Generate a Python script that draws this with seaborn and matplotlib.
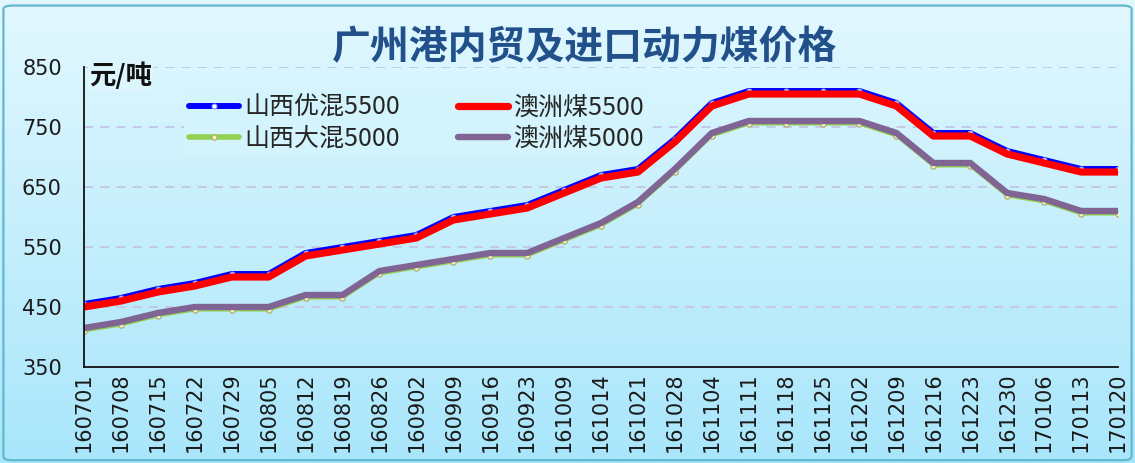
import numpy as np
import pandas as pd
import matplotlib
matplotlib.use("Agg")
import matplotlib.pyplot as plt
from matplotlib.colors import LinearSegmentedColormap
from matplotlib.patches import FancyBboxPatch
import seaborn as sns

# ---------------------------------------------------------------------------
# Data (元/吨)
# ---------------------------------------------------------------------------
dates = [
    "160701", "160708", "160715", "160722", "160729", "160805", "160812",
    "160819", "160826", "160902", "160909", "160916", "160923", "161009",
    "161014", "161021", "161028", "161104", "161111", "161118", "161125",
    "161202", "161209", "161216", "161223", "161230", "170106", "170113",
    "170120",
]
shanxi_you_5500 = [455, 465, 480, 490, 505, 505, 540, 550, 560, 570, 600, 610,
                   620, 645, 670, 680, 730, 790, 810, 810, 810, 810, 790, 740,
                   740, 710, 695, 680, 680]
aozhou_5500 = [450, 460, 475, 485, 500, 500, 535, 545, 555, 565, 595, 605,
               615, 640, 665, 675, 725, 785, 805, 805, 805, 805, 785, 735,
               735, 705, 690, 675, 675]
shanxi_da_5000 = [410, 420, 435, 445, 445, 445, 465, 465, 505, 515, 525, 535,
                  535, 560, 585, 620, 675, 735, 755, 755, 755, 755, 735, 685,
                  685, 635, 625, 605, 605]
aozhou_5000 = [415, 425, 440, 450, 450, 450, 470, 470, 510, 520, 530, 540,
               540, 565, 590, 625, 680, 740, 760, 760, 760, 760, 740, 690,
               690, 640, 630, 610, 610]
y_ticks = [350, 450, 550, 650, 750, 850]

df = pd.DataFrame({
    "date": dates,
    "pos": np.arange(len(dates)),
    "山西优混5500": shanxi_you_5500,
    "澳洲煤5500": aozhou_5500,
    "山西大混5000": shanxi_da_5000,
    "澳洲煤5000": aozhou_5000,
})

# drawing order matters: red over blue, purple over green
styles = [
    ("山西优混5500", dict(color="#0000FF", linewidth=4.3, marker="o", markersize=3.5,
                         markerfacecolor="#FFFFFF", markeredgecolor="#8FA8FF",
                         markeredgewidth=0.8)),
    ("山西大混5000", dict(color="#92D050", linewidth=2.2, marker="o", markersize=3.8,
                         markerfacecolor="#F4F4C0", markeredgecolor="#A8A860",
                         markeredgewidth=0.8)),
    ("澳洲煤5500", dict(color="#FF0000", linewidth=5.2)),
    ("澳洲煤5000", dict(color="#7F6494", linewidth=4.6)),
]

sns.set_theme(style="white")
plt.rcParams["font.family"] = ["Noto Sans CJK SC", "DejaVu Sans"]

fig = plt.figure(figsize=(11.35, 4.63), dpi=100)

# gradient background with a thin frame
bg = fig.add_axes([0, 0, 1, 1], zorder=-10)
cmap = LinearSegmentedColormap.from_list("bg", ["#A9E6FB", "#E2F8FE"])
bg.imshow(np.linspace(0, 1, 256).reshape(-1, 1), aspect="auto", cmap=cmap,
          extent=[0, 1, 0, 1], origin="lower")
bg.add_patch(FancyBboxPatch((0.003, 0.006), 0.994, 0.982,
                            boxstyle="round,pad=0,rounding_size=0.008",
                            transform=bg.transAxes, fill=False,
                            edgecolor="#62B8CF", linewidth=1.6))
bg.set_axis_off()

ax = fig.add_axes([84 / 1135, 96 / 463, 1034 / 1135, 300 / 463])
ax.patch.set_alpha(0)

handles = {}
for name, kw in styles:
    sns.lineplot(data=df, x="pos", y=name, ax=ax, label=name, **kw)
    handles[name] = ax.get_lines()[-1]

ax.set_xlim(0, len(dates) - 1)
ax.set_ylim(350, 850)
ax.set_xticks(df["pos"])
ax.set_xticklabels(dates, rotation=90, fontsize=15, family="DejaVu Sans",
                   color="#1A1A1A")
ax.set_yticks(y_ticks)
ax.set_yticklabels([str(v) for v in y_ticks], fontsize=15, family="DejaVu Sans",
                   color="#1A1A1A")
ax.tick_params(axis="x", direction="in", length=8, width=1.2, pad=4,
               color="#111111")
ax.tick_params(axis="y", direction="in", length=8, width=1.2, pad=16,
               color="#111111")
ax.set_xlabel("")
ax.set_ylabel("")

for side in ("top", "right"):
    ax.spines[side].set_visible(False)
for side in ("left", "bottom"):
    ax.spines[side].set_color("#111111")
    ax.spines[side].set_linewidth(1.3)

ax.yaxis.grid(True, linestyle=(0, (5, 4)), color="#C4C4E6", linewidth=1.3)
ax.set_axisbelow(True)

order = ["山西优混5500", "山西大混5000", "澳洲煤5500", "澳洲煤5000"]
legend_lines = []
for n in order:
    h = handles[n]
    proxy = plt.Line2D([], [], color=h.get_color(),
                       linewidth=max(h.get_linewidth(), 4.0),
                       marker=h.get_marker(), markersize=h.get_markersize(),
                       markerfacecolor=h.get_markerfacecolor(),
                       markeredgecolor=h.get_markeredgecolor(),
                       markeredgewidth=h.get_markeredgewidth())
    legend_lines.append(proxy)
leg = ax.legend(legend_lines, order, ncol=2, loc="upper left",
                bbox_to_anchor=(0.097, 0.925), fontsize=18, frameon=True,
                facecolor="#D3F3FD", edgecolor="none", framealpha=1,
                handlelength=2.0, handletextpad=0.2, columnspacing=2.3,
                labelspacing=0.2, borderpad=0.2, borderaxespad=0)
leg.set_zorder(5)

ax.text(0.005, 1.015, "元/吨", transform=ax.transAxes, fontsize=19,
        fontweight="bold", color="#111111", ha="left", va="top",
        bbox=dict(facecolor="#DDF6FD", edgecolor="none", pad=1))

fig.text(0.515, 0.898, "广州港内贸及进口动力煤价格", ha="center", va="center",
         fontsize=28, fontweight="bold", color="#21508A")

fig.savefig("out.png", dpi=100)
plt.close(fig)
